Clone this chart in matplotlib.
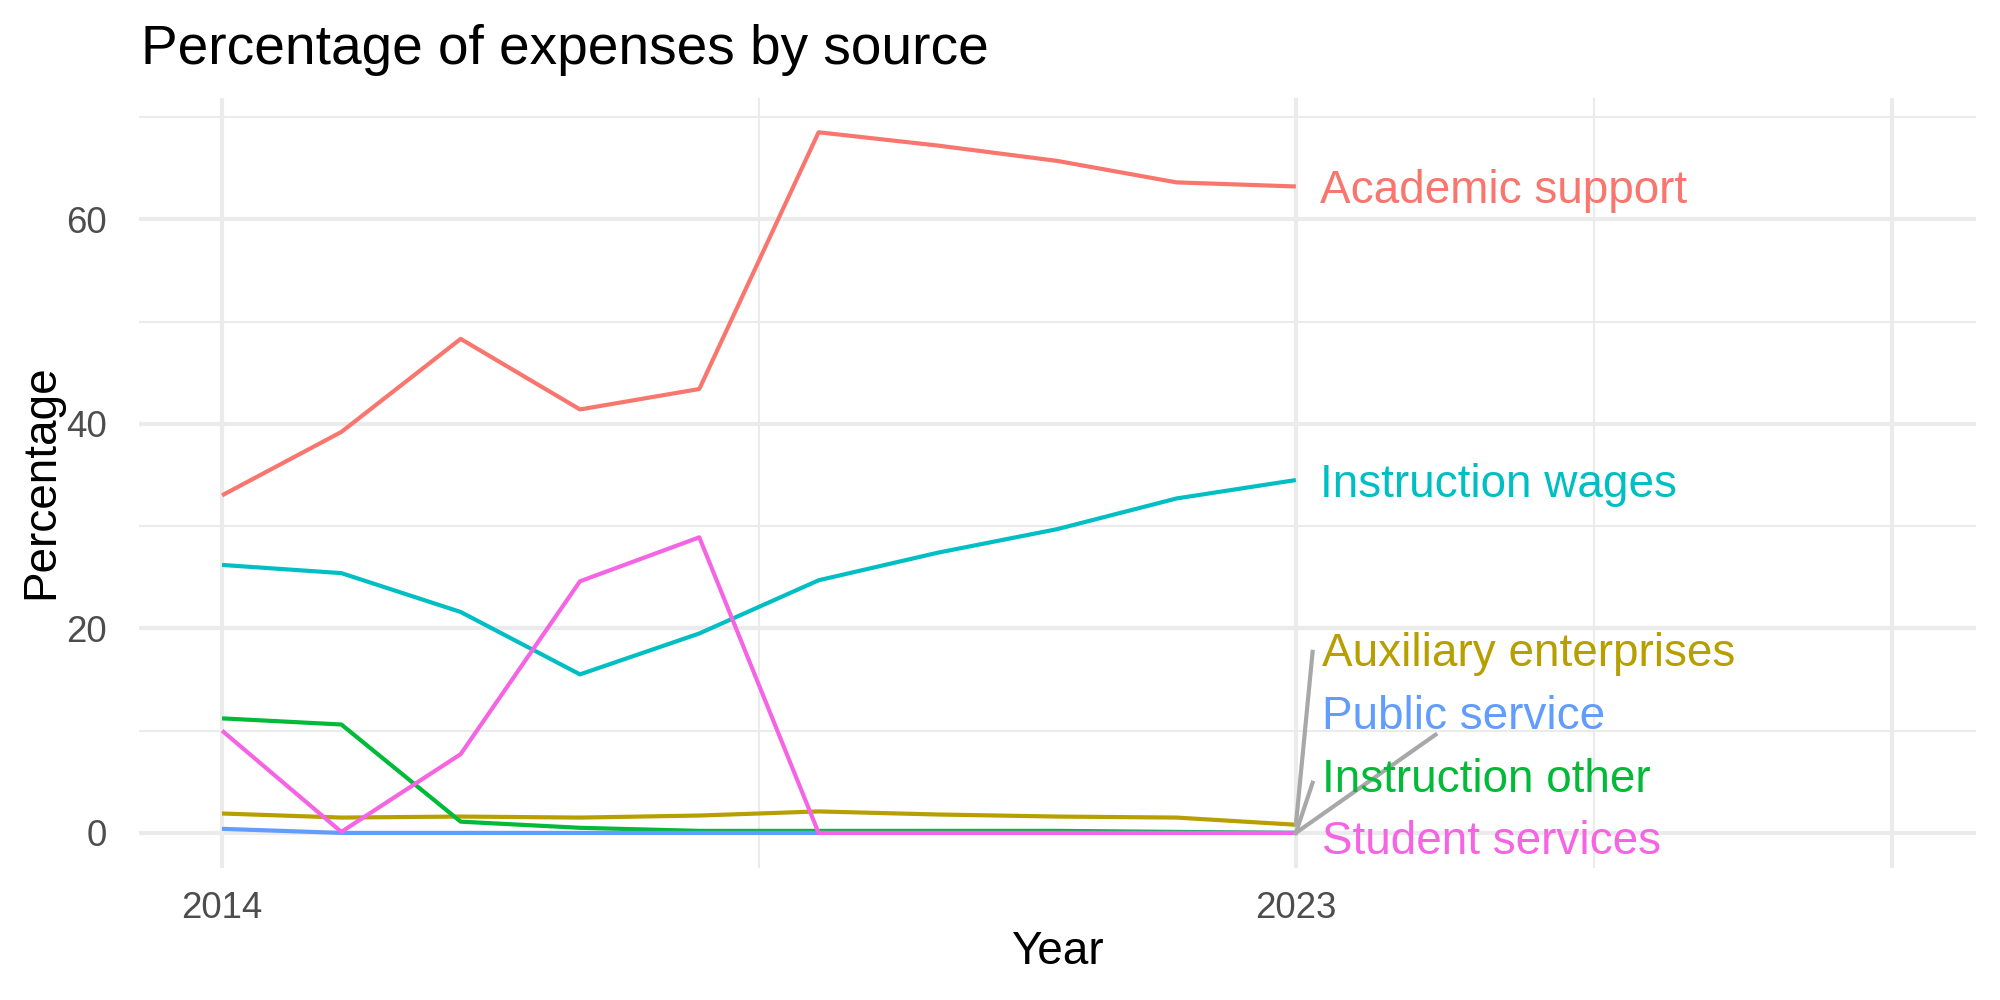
import matplotlib
matplotlib.use("Agg")
import matplotlib.pyplot as plt

plt.rcParams['font.family'] = ['Liberation Sans', 'DejaVu Sans']

# data
years = [2014, 2015, 2016, 2017, 2018, 2019, 2020, 2021, 2022, 2023]
sources = ["Academic support", "Auxiliary enterprises", "Instruction other",
           "Instruction wages", "Public service", "Student services"]
academic_support = [33.0, 39.2, 48.3, 41.4, 43.4, 68.5, 67.2, 65.7, 63.6, 63.2]
auxiliary_enterprises = [1.9, 1.5, 1.6, 1.5, 1.7, 2.1, 1.8, 1.6, 1.5, 0.8]
instruction_other = [11.2, 10.6, 1.1, 0.5, 0.2, 0.2, 0.2, 0.2, 0.1, 0.0]
instruction_wages = [26.2, 25.4, 21.6, 15.5, 19.5, 24.7, 27.4, 29.7, 32.7, 34.5]
public_service = [0.4, 0.0, 0.0, 0.0, 0.0, 0.0, 0.0, 0.0, 0.0, 0.0]
student_services = [10.0, 0.1, 7.7, 24.6, 28.9, 0.0, 0.0, 0.0, 0.0, 0.0]
values = [academic_support, auxiliary_enterprises, instruction_other,
          instruction_wages, public_service, student_services]

colors = ["#F8766D", "#B79F00", "#00BA38", "#00BFC4", "#619CFF", "#F564E3"]

# where the repelled labels ended up (x, y) and where their segments stop
label_pos = [(2023.2, 63.2), (2023.22, 18.0), (2023.22, 5.7),
             (2023.2, 34.5), (2023.22, 11.8), (2023.22, -0.4)]
seg_end = [None, (2023.14, 17.7), (2023.14, 4.9), None, (2024.17, 9.6), None]

fig = plt.figure(figsize=(20 / 3, 10 / 3), dpi=300)
ax = fig.add_axes([138.5 / 2000, 1 - 868 / 1000, (1976 - 138.5) / 2000, (868 - 97.5) / 1000])

grid = "#EBEBEB"
for x in [2014, 2023, 2028]:
    ax.axvline(x, color=grid, lw=1.0, zorder=0)
for x in [2018.5, 2025.5]:
    ax.axvline(x, color=grid, lw=0.5, zorder=0)
for y in [0, 20, 40, 60]:
    ax.axhline(y, color=grid, lw=1.0, zorder=0)
for y in [10, 30, 50, 70]:
    ax.axhline(y, color=grid, lw=0.5, zorder=0)

for name, vals, c in zip(sources, values, colors):
    ax.plot(years, vals, color=c, lw=1.0, solid_capstyle='butt', zorder=2)

# segments from the last point to the labels
for vals, end in zip(values, seg_end):
    if end is None:
        continue
    ax.plot([years[-1], end[0]], [vals[-1], end[1]], color="#A8A8A8", lw=1.0, zorder=3)

for name, c, (lx, ly) in zip(sources, colors, label_pos):
    ax.text(lx, ly, name, color=c, fontsize=11, ha='left', va='center_baseline', zorder=4)

ax.set_xlim(2013.3, 2028.7)
ax.set_ylim(-3.43, 71.9)
ax.set_xticks([2014, 2023, 2028])
ax.set_xticklabels(["2014", "2023", ""])
ax.set_yticks([0, 20, 40, 60])
ax.tick_params(length=0, labelsize=8.8, labelcolor="#4D4D4D")
ax.tick_params(axis='y', pad=7.5)
ax.tick_params(axis='x', pad=5.5)
for s in ax.spines.values():
    s.set_visible(False)

fig.text(141 / 2000, 1 - 64 / 1000, "Percentage of expenses by source", fontsize=13.2,
         ha='left', va='baseline')
fig.text((138.5 + 1976) / 2 / 2000, 1 - 952 / 1000, "Year", fontsize=11, ha='center', va='center')
fig.text(41 / 2000, 1 - 482 / 1000, "Percentage", fontsize=11, rotation=90, ha='center', va='center')

fig.savefig("out.png", dpi=300, facecolor="white")
